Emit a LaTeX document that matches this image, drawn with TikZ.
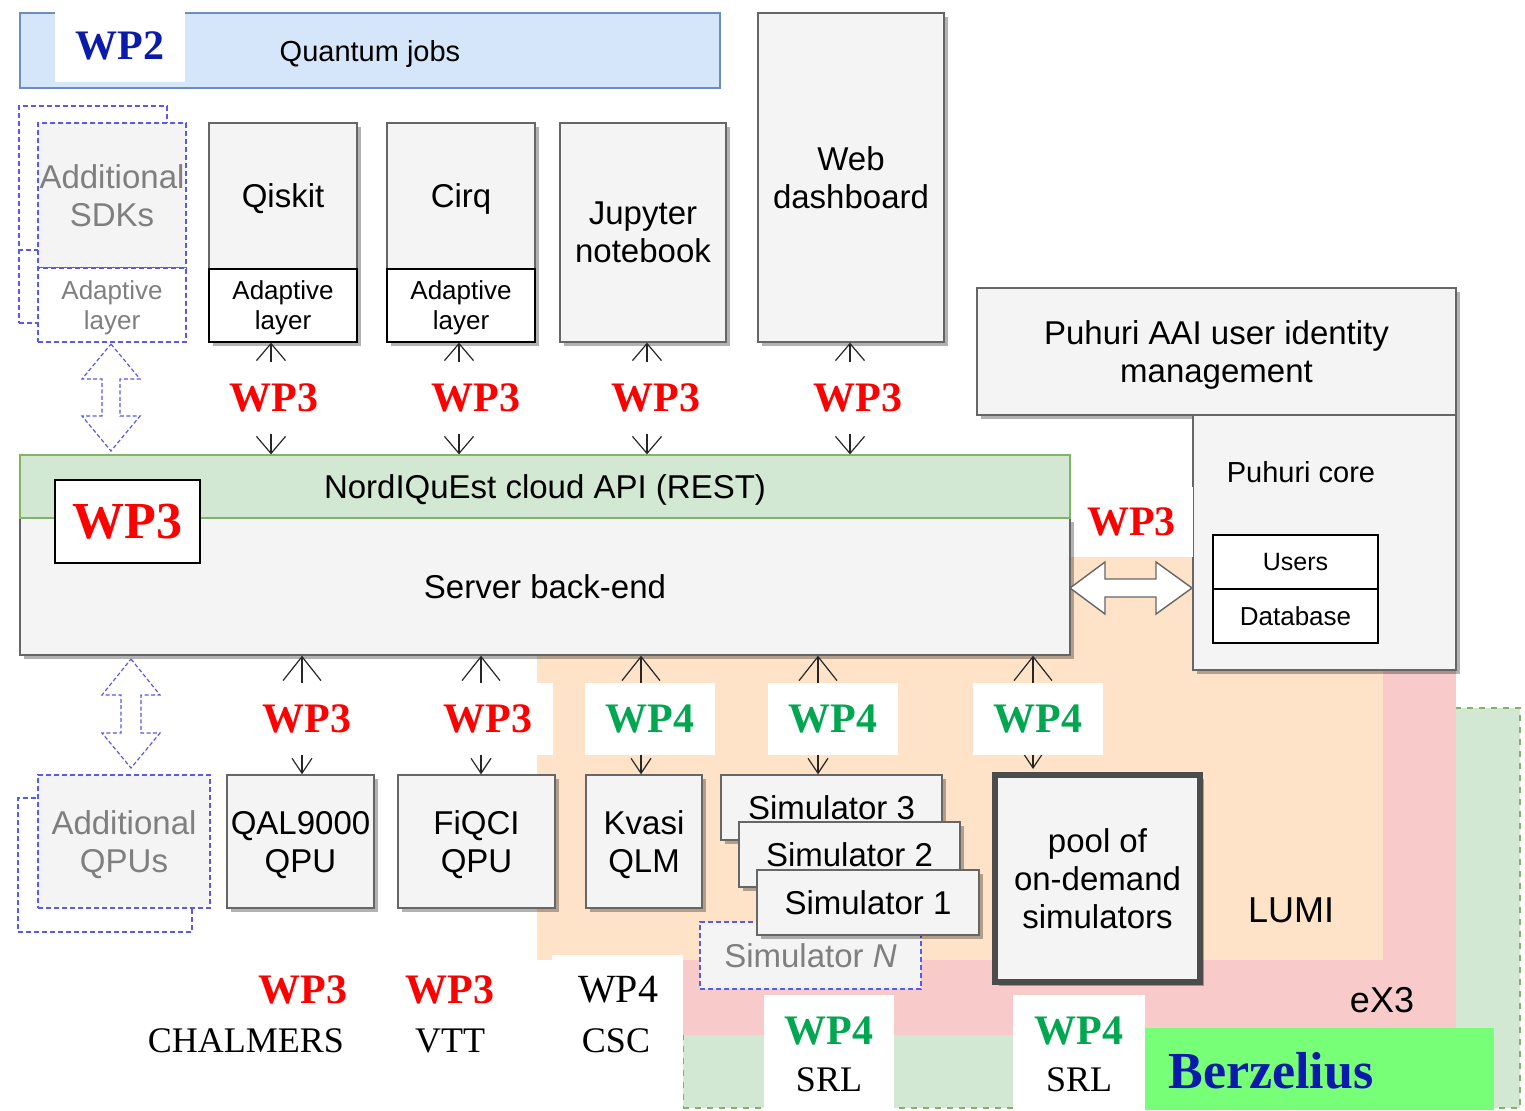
\documentclass[tikz,border=0pt]{standalone}
\usepackage{fontspec}
\setmainfont{Liberation Serif}
\setsansfont{Liberation Sans}
\usetikzlibrary{positioning,arrows.meta,shadows}

\definecolor{boxgray}{HTML}{F4F4F4}
\definecolor{edgegray}{HTML}{666666}
\definecolor{jobsblue}{HTML}{D6E6FA}
\definecolor{jobsedge}{HTML}{6C8EBF}
\definecolor{apigreen}{HTML}{D2E8D2}
\definecolor{edgegreen}{HTML}{82B366}
\definecolor{lumiorange}{HTML}{FEE3C8}
\definecolor{expink}{HTML}{F9CACA}
\definecolor{berzgreen}{HTML}{77FF77}
\definecolor{wpred}{HTML}{FF0000}
\definecolor{wpgreen}{HTML}{00A650}
\definecolor{wpblue}{HTML}{0A1AAA}
\definecolor{dashblue}{HTML}{5A5AE6}
\definecolor{extratext}{HTML}{7F7F7F}

\newcommand{\wpfont}{\rmfamily\bfseries\fontsize{21}{24}\selectfont}
\newcommand{\bigwpfont}{\rmfamily\bfseries\fontsize{26}{30}\selectfont}
\newcommand{\sitefont}{\rmfamily\fontsize{18}{21}\selectfont}
\newcommand{\boxfont}{\sffamily\fontsize{16.5}{19}\selectfont}
\newcommand{\smallboxfont}{\sffamily\fontsize{13}{15}\selectfont}

\tikzset{
  boxsize/.style 2 args={minimum width=#1*0.5pt, minimum height=#2*0.5pt},
  flat/.style={draw, inner sep=0pt, align=center, text depth=0pt, line width=0.65pt, font=\boxfont},
  box/.style={flat, draw=edgegray, fill=boxgray,
    drop shadow={shadow xshift=2pt, shadow yshift=-2pt, fill=black, opacity=0.3}},
  layerbox/.style={box, draw=black, fill=white, font=\smallboxfont},
  cellbox/.style={flat, draw=black, fill=white, font=\sffamily\fontsize{12.5}{15}\selectfont},
  extra/.style={flat, draw=dashblue, dash pattern=on 2.5pt off 1.5pt, line width=0.8pt,
    fill=boxgray, text=extratext},
  region/.style={inner sep=0pt, draw=none},
  patch/.style={inner sep=0pt, draw=none, fill=white},
  wplbl/.style={fill=white, inner sep=0pt, minimum width=65pt, minimum height=36pt, font=\wpfont},
  link/.style={draw=black!85, line width=0.6pt,
    arrows={Straight Barb[length=8.5pt,width=14.5pt]-Straight Barb[length=8.5pt,width=14.5pt]}},
  linkb/.style={draw=black!85, line width=0.6pt,
    arrows={Straight Barb[length=12pt,width=19pt]-Straight Barb[length=7.5pt,width=10pt]}},
  hollow/.style={draw=dashblue, dash pattern=on 2pt off 1.2pt, fill=white, line width=0.6pt},
}

\begin{document}
\begin{tikzpicture}[x=0.5pt, y=-0.5pt]
  \useasboundingbox (0,0) rectangle (1525,1110);

  % sites behind everything
  \node[region, fill=apigreen, draw=edgegreen, dashed, line width=0.7pt, boxsize={837}{400}] (berz) at (1101.5,908) {};
  \node[region, fill=expink, boxsize={773}{475}] (exthree) at (1069.5,797.5) {};
  \node[region, fill=lumiorange, boxsize={846}{403}] (lumi) at (960,758.5) {};
  \node[font=\sffamily\fontsize{18}{21}\selectfont] (lumilbl) at (1291,910) {LUMI};
  \node[font=\sffamily\fontsize{18}{21}\selectfont] (exthreelbl) at (1382,1000) {eX3};

  % clients
  \node[flat, fill=jobsblue, draw=jobsedge, line width=1pt, boxsize={700}{75},
        font=\sffamily\fontsize{14.5}{17}\selectfont] (jobs) at (370,50.5) {Quantum jobs};
  \node[patch, boxsize={130}{72}, text=wpblue, font=\wpfont] (wptwo) at (120,46) {WP2};

  \node[extra, fill=white, boxsize={148}{217}] (sdkback) at (93,214.5) {};
  \draw[draw=dashblue, dash pattern=on 2.5pt off 1.5pt, line width=0.8pt] (sdkback.west |- 0,250) -- (sdkback.east |- 0,250);
  \node[extra, boxsize={148}{145}] (sdks) at (112,195.5) {Additional\\SDKs};
  \node[extra, fill=white, boxsize={148}{74}, font=\smallboxfont] (sdkad) at (112,305) {Adaptive\\layer};

  \node[box, boxsize={148}{146}] (qiskit) at (283,196) {Qiskit};
  \node[layerbox, boxsize={148}{73}] (qiskitad) at (283,305.5) {Adaptive\\layer};
  \node[box, boxsize={148}{146}] (cirq) at (461,196) {Cirq};
  \node[layerbox, boxsize={148}{73}] (cirqad) at (461,305.5) {Adaptive\\layer};
  \node[box, boxsize={166}{219}] (jupyter) at (643,232.5) {Jupyter\\notebook};
  \node[box, boxsize={186}{329}] (web) at (851,177.5) {Web\\dashboard};

  % puhuri
  \node[box, boxsize={479}{127}] (aai) at (1216.5,351.5) {Puhuri AAI user identity\\management};
  \node[box, boxsize={263}{255}] (core) at (1324.5,542.5) {};
  \node[font=\sffamily\fontsize{14.5}{17}\selectfont] (corelbl) at (1301,472) {Puhuri core};
  \node[cellbox, boxsize={165}{54}] (users) at (1295.5,562) {Users};
  \node[cellbox, font=\sffamily\fontsize{13}{15}\selectfont, boxsize={165}{54}] (database) at (1295.5,616) {Database};
  \node[patch, boxsize={123}{70}, text=wpred, font=\wpfont] (wpcore) at (1131.5,522) {WP3};

  % cloud API and back-end
  \node[box, boxsize={1050}{137}, font=\sffamily\fontsize{16.5}{19}\selectfont] (backend) at (545,586.5) {Server back-end};
  \node[flat, fill=apigreen, draw=edgegreen, boxsize={1050}{63},
        font=\sffamily\fontsize{16.5}{19}\selectfont] (api) at (545,486.5) {NordIQuEst cloud API (REST)};
  \node[flat, fill=white, draw=black, line width=0.9pt, boxsize={145}{83},
        text=wpred, font=\bigwpfont] (wpapi) at (127.5,521.5) {WP3};

  % links to clients
  \draw[link] (qiskitad.south -| 271,0) -- (api.north -| 271,0);
  \draw[link] (cirqad.south -| 459,0) -- (api.north -| 459,0);
  \draw[link] (jupyter.south -| 647,0) -- (api.north -| 647,0);
  \draw[link] (web.south -| 850,0) -- (api.north -| 850,0);
  \node[wplbl, text=wpred] (wpqiskit) at (274,398) {WP3};
  \node[wplbl, text=wpred] (wpcirq) at (476,398) {WP3};
  \node[wplbl, text=wpred] (wpjupyter) at (656,398) {WP3};
  \node[wplbl, text=wpred] (wpweb) at (858,398) {WP3};

  \draw[hollow] (111,344) -- (140,379) -- (120,379) -- (120,416) -- (140,416) -- (111,451)
    -- (82,416) -- (102,416) -- (102,379) -- (82,379) -- cycle;
  \draw[fill=white, draw=edgegray, line width=0.7pt] (1070,588) -- (1105,562) -- (1105,579) -- (1156,579)
    -- (1156,562) -- (1192,588) -- (1156,614) -- (1156,597) -- (1105,597) -- (1105,614) -- cycle;

  % backends
  \node[extra, fill=white, boxsize={174}{134}] (qpuback) at (105,865) {};
  \node[extra, boxsize={172}{133}] (qpus) at (124,841.5) {Additional\\QPUs};
  \node[box, boxsize={147}{133}] (qal) at (300.5,841.5) {QAL9000\\QPU};
  \node[box, boxsize={157}{133}] (fiqci) at (476.5,841.5) {FiQCI\\QPU};
  \node[box, boxsize={116}{133}] (kvasi) at (644,841.5) {Kvasi\\QLM};
  \node[extra, boxsize={221}{67}] (simn) at (810.5,955.5) {Simulator \textit{N}};
  \node[box, boxsize={221}{65}] (simthree) at (831.5,807.5) {Simulator 3};
  \node[box, boxsize={221}{65}] (simtwo) at (849.5,854.5) {Simulator 2};
  \node[box, boxsize={222}{65}] (simone) at (868,902.5) {Simulator 1};
  \node[box, draw=black!70, line width=3pt, boxsize={205}{207}] (pool) at (1097.5,878.5) {pool of\\on-demand\\simulators};

  \draw[linkb] (backend.south -| 302,0) -- (qal.north -| 302,0);
  \draw[linkb] (backend.south -| 481,0) -- (fiqci.north -| 481,0);
  \draw[linkb] (backend.south -| 641,0) -- (kvasi.north -| 641,0);
  \draw[linkb] (backend.south -| 818,0) -- (simthree.north -| 818,0);
  \draw[linkb, shorten >=1.5pt] (backend.south -| 1033,0) -- (pool.north -| 1033,0);
  \node[wplbl, text=wpred] (wpqal) at (307,719) {WP3};
  \node[wplbl, text=wpred] (wpfiqci) at (488,719) {WP3};
  \node[wplbl, text=wpgreen] (wpkvasi) at (650,719) {WP4};
  \node[wplbl, text=wpgreen] (wpsim) at (833,719) {WP4};
  \node[wplbl, text=wpgreen] (wppool) at (1038,719) {WP4};

  \draw[hollow] (131,659) -- (160,695) -- (141,695) -- (141,733) -- (160,733) -- (131,768)
    -- (102,733) -- (121,733) -- (121,695) -- (102,695) -- cycle;

  % partners
  \node[patch, boxsize={131}{155}] (cscpatch) at (617.5,1032.5) {};
  \node[patch, boxsize={130}{115}] (srlpatcha) at (829,1052.5) {};
  \node[patch, boxsize={132}{115}] (srlpatchb) at (1079,1052.5) {};
  \node[region, fill=berzgreen, boxsize={349}{82}] (berzbox) at (1319.5,1069) {};

  \node[font=\wpfont, text=wpred] (wpchalmers) at (303,990) {WP3};
  \node[font=\sitefont] (chalmers) at (246,1041) {CHALMERS};
  \node[font=\wpfont, text=wpred] (wpvtt) at (450,990) {WP3};
  \node[font=\sitefont] (vtt) at (450,1041) {VTT};
  \node[font=\rmfamily\fontsize{20}{24}\selectfont] (wpcsc) at (618,990) {WP4};
  \node[font=\sitefont] (csc) at (616,1041) {CSC};
  \node[font=\wpfont, text=wpgreen] (wpsrla) at (829,1031) {WP4};
  \node[font=\sitefont] (srla) at (829,1080) {SRL};
  \node[font=\wpfont, text=wpgreen] (wpsrlb) at (1079,1031) {WP4};
  \node[font=\sitefont] (srlb) at (1079,1080) {SRL};
  \node[font=\bigwpfont, text=wpblue] (berzlbl) at (1271,1071) {Berzelius};
\end{tikzpicture}
\end{document}
